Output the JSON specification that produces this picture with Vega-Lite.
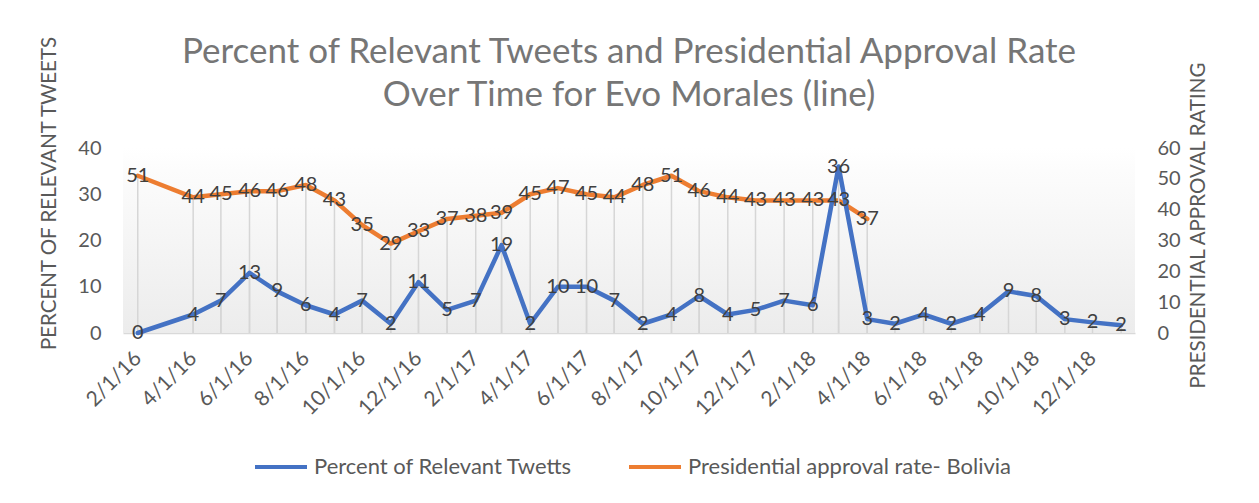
{
  "$schema": "https://vega.github.io/schema/vega-lite/v6.json",
  "width": 1012,
  "height": 185,
  "autosize": {"type": "none"},
  "padding": {"left": 123, "top": 148, "right": 124, "bottom": 170},
  "background": "white",
  "config": {"view": {"stroke": null}, "font": "Lato"},
  "title": {
    "text": ["Percent of Relevant Tweets and Presidential Approval Rate", "Over Time for Evo Morales (line)"],
    "fontSize": 35,
    "font": "Lato",
    "fontWeight": "normal",
    "color": "#767676",
    "lineHeight": 43,
    "anchor": "middle",
    "frame": "group",
    "offset": -78
  },
  "data": {
    "values": [
      {"date": "2016-02-01", "series": "Percent of Relevant Twetts", "value": 0},
      {"date": "2016-04-01", "series": "Percent of Relevant Twetts", "value": 4},
      {"date": "2016-05-01", "series": "Percent of Relevant Twetts", "value": 7},
      {"date": "2016-06-01", "series": "Percent of Relevant Twetts", "value": 13},
      {"date": "2016-07-01", "series": "Percent of Relevant Twetts", "value": 9},
      {"date": "2016-08-01", "series": "Percent of Relevant Twetts", "value": 6},
      {"date": "2016-09-01", "series": "Percent of Relevant Twetts", "value": 4},
      {"date": "2016-10-01", "series": "Percent of Relevant Twetts", "value": 7},
      {"date": "2016-11-01", "series": "Percent of Relevant Twetts", "value": 2},
      {"date": "2016-12-01", "series": "Percent of Relevant Twetts", "value": 11},
      {"date": "2017-01-01", "series": "Percent of Relevant Twetts", "value": 5},
      {"date": "2017-02-01", "series": "Percent of Relevant Twetts", "value": 7},
      {"date": "2017-03-01", "series": "Percent of Relevant Twetts", "value": 19},
      {"date": "2017-04-01", "series": "Percent of Relevant Twetts", "value": 2},
      {"date": "2017-05-01", "series": "Percent of Relevant Twetts", "value": 10},
      {"date": "2017-06-01", "series": "Percent of Relevant Twetts", "value": 10},
      {"date": "2017-07-01", "series": "Percent of Relevant Twetts", "value": 7},
      {"date": "2017-08-01", "series": "Percent of Relevant Twetts", "value": 2},
      {"date": "2017-09-01", "series": "Percent of Relevant Twetts", "value": 4},
      {"date": "2017-10-01", "series": "Percent of Relevant Twetts", "value": 8},
      {"date": "2017-11-01", "series": "Percent of Relevant Twetts", "value": 4},
      {"date": "2017-12-01", "series": "Percent of Relevant Twetts", "value": 5},
      {"date": "2018-01-01", "series": "Percent of Relevant Twetts", "value": 7},
      {"date": "2018-02-01", "series": "Percent of Relevant Twetts", "value": 6},
      {"date": "2018-03-01", "series": "Percent of Relevant Twetts", "value": 36},
      {"date": "2018-04-01", "series": "Percent of Relevant Twetts", "value": 3},
      {"date": "2018-05-01", "series": "Percent of Relevant Twetts", "value": 2},
      {"date": "2018-06-01", "series": "Percent of Relevant Twetts", "value": 4},
      {"date": "2018-07-01", "series": "Percent of Relevant Twetts", "value": 2},
      {"date": "2018-08-01", "series": "Percent of Relevant Twetts", "value": 4},
      {"date": "2018-09-01", "series": "Percent of Relevant Twetts", "value": 9},
      {"date": "2018-10-01", "series": "Percent of Relevant Twetts", "value": 8},
      {"date": "2018-11-01", "series": "Percent of Relevant Twetts", "value": 3},
      {"date": "2018-12-01", "series": "Percent of Relevant Twetts", "value": 2.3},
      {"date": "2019-01-01", "series": "Percent of Relevant Twetts", "value": 1.7},
      {"date": "2016-02-01", "series": "Presidential approval rate- Bolivia", "value": 51},
      {"date": "2016-04-01", "series": "Presidential approval rate- Bolivia", "value": 44},
      {"date": "2016-05-01", "series": "Presidential approval rate- Bolivia", "value": 45},
      {"date": "2016-06-01", "series": "Presidential approval rate- Bolivia", "value": 46},
      {"date": "2016-07-01", "series": "Presidential approval rate- Bolivia", "value": 46},
      {"date": "2016-08-01", "series": "Presidential approval rate- Bolivia", "value": 48},
      {"date": "2016-09-01", "series": "Presidential approval rate- Bolivia", "value": 43},
      {"date": "2016-10-01", "series": "Presidential approval rate- Bolivia", "value": 35},
      {"date": "2016-11-01", "series": "Presidential approval rate- Bolivia", "value": 29},
      {"date": "2016-12-01", "series": "Presidential approval rate- Bolivia", "value": 33},
      {"date": "2017-01-01", "series": "Presidential approval rate- Bolivia", "value": 37},
      {"date": "2017-02-01", "series": "Presidential approval rate- Bolivia", "value": 38},
      {"date": "2017-03-01", "series": "Presidential approval rate- Bolivia", "value": 39},
      {"date": "2017-04-01", "series": "Presidential approval rate- Bolivia", "value": 45},
      {"date": "2017-05-01", "series": "Presidential approval rate- Bolivia", "value": 47},
      {"date": "2017-06-01", "series": "Presidential approval rate- Bolivia", "value": 45},
      {"date": "2017-07-01", "series": "Presidential approval rate- Bolivia", "value": 44},
      {"date": "2017-08-01", "series": "Presidential approval rate- Bolivia", "value": 48},
      {"date": "2017-09-01", "series": "Presidential approval rate- Bolivia", "value": 51},
      {"date": "2017-10-01", "series": "Presidential approval rate- Bolivia", "value": 46},
      {"date": "2017-11-01", "series": "Presidential approval rate- Bolivia", "value": 44},
      {"date": "2017-12-01", "series": "Presidential approval rate- Bolivia", "value": 43},
      {"date": "2018-01-01", "series": "Presidential approval rate- Bolivia", "value": 43},
      {"date": "2018-02-01", "series": "Presidential approval rate- Bolivia", "value": 43},
      {"date": "2018-03-01", "series": "Presidential approval rate- Bolivia", "value": 43},
      {"date": "2018-04-01", "series": "Presidential approval rate- Bolivia", "value": 37}
    ]
  },
  "encoding": {
    "x": {
      "field": "date",
      "type": "temporal",
      "scale": {
        "type": "utc",
        "domain": [
          {"year": 2016, "month": 1, "date": 16, "utc": true},
          {"year": 2019, "month": 1, "date": 16, "utc": true}
        ]
      },
      "axis": {
        "values": [
          {"year": 2016, "month": 2, "date": 1, "utc": true},
          {"year": 2016, "month": 4, "date": 1, "utc": true},
          {"year": 2016, "month": 6, "date": 1, "utc": true},
          {"year": 2016, "month": 8, "date": 1, "utc": true},
          {"year": 2016, "month": 10, "date": 1, "utc": true},
          {"year": 2016, "month": 12, "date": 1, "utc": true},
          {"year": 2017, "month": 2, "date": 1, "utc": true},
          {"year": 2017, "month": 4, "date": 1, "utc": true},
          {"year": 2017, "month": 6, "date": 1, "utc": true},
          {"year": 2017, "month": 8, "date": 1, "utc": true},
          {"year": 2017, "month": 10, "date": 1, "utc": true},
          {"year": 2017, "month": 12, "date": 1, "utc": true},
          {"year": 2018, "month": 2, "date": 1, "utc": true},
          {"year": 2018, "month": 4, "date": 1, "utc": true},
          {"year": 2018, "month": 6, "date": 1, "utc": true},
          {"year": 2018, "month": 8, "date": 1, "utc": true},
          {"year": 2018, "month": 10, "date": 1, "utc": true},
          {"year": 2018, "month": 12, "date": 1, "utc": true}
        ],
        "format": "%-m/%-d/%y",
        "labelAngle": -45,
        "labelAlign": "right",
        "labelBaseline": "middle",
        "labelFontSize": 21,
        "labelColor": "#595959",
        "labelPadding": 22,
        "labelOverlap": false,
        "labelFlush": false,
        "labelBound": false,
        "ticks": false,
        "grid": false,
        "domainColor": "#d9d9d9",
        "domainWidth": 1.5,
        "title": null
      }
    }
  },
  "layer": [
    {
      "encoding": {
        "y": {
          "field": "value",
          "type": "quantitative",
          "scale": {"domain": [0, 60], "nice": false},
          "axis": {
            "orient": "right",
            "values": [0, 10, 20, 30, 40, 50, 60],
            "title": "PRESIDENTIAL APPROVAL RATING",
            "titleAngle": -90,
            "titleBaseline": "top",
            "titleY": 77,
            "titlePadding": 8,
            "titleFontSize": 20.5,
            "titleFontWeight": "normal",
            "titleColor": "#595959",
            "labelFontSize": 20,
            "labelColor": "#595959",
            "labelPadding": 22,
            "ticks": false,
            "domain": false,
            "grid": false
          }
        }
      },
      "layer": [
        {
          "transform": [{"filter": "datum.series === 'Presidential approval rate- Bolivia'"}, {"filter": "datum.value === 51 && year(datum.date) === 2016"}],
          "mark": {
            "type": "rect",
            "fill": {
              "gradient": "linear",
              "x1": 0, "y1": 0, "x2": 0, "y2": 1,
              "stops": [
                {"offset": 0, "color": "#ffffff"},
                {"offset": 0.12, "color": "#fcfcfc"},
                {"offset": 1, "color": "#ececec"}
              ]
            }
          },
          "encoding": {
            "x": {"datum": {"year": 2016, "month": 1, "date": 16, "utc": true}, "type": "temporal"},
            "x2": {"datum": {"year": 2019, "month": 1, "date": 16, "utc": true}},
            "y": {"datum": 0, "type": "quantitative"},
            "y2": {"datum": 60}
          }
        },
        {
          "transform": [{"filter": "datum.series === 'Presidential approval rate- Bolivia'"}],
          "mark": {"type": "rule", "color": "#d6d6d6", "strokeWidth": 1.5},
          "encoding": {"y2": {"datum": 0}}
        },
        {
          "transform": [{"filter": "datum.series === 'Presidential approval rate- Bolivia'"}],
          "mark": {"type": "line", "strokeWidth": 4.5, "strokeJoin": "round", "strokeCap": "round"},
          "encoding": {
            "color": {
              "field": "series",
              "type": "nominal",
              "scale": {
                "domain": ["Percent of Relevant Twetts", "Presidential approval rate- Bolivia"],
                "range": ["#4472C4", "#ED7D31"]
              },
              "legend": {
                "orient": "none",
                "legendX": 130,
                "legendY": 291,
                "direction": "horizontal",
                "title": null,
                "symbolType": "stroke",
                "symbolSize": 2704,
                "symbolStrokeWidth": 4,
                "labelFontSize": 22,
                "labelColor": "#595959",
                "labelLimit": 500,
                "labelOffset": 5,
                "columnPadding": 48
              }
            }
          }
        }
      ]
    },
    {
      "transform": [{"filter": "datum.series === 'Percent of Relevant Twetts'"}],
      "encoding": {
        "y": {
          "field": "value",
          "type": "quantitative",
          "scale": {"domain": [0, 40], "nice": false},
          "axis": {
            "orient": "left",
            "values": [0, 10, 20, 30, 40],
            "title": "PERCENT OF RELEVANT TWEETS",
            "titleY": 45,
            "titlePadding": 18,
            "titleFontSize": 20.5,
            "titleFontWeight": "normal",
            "titleColor": "#595959",
            "labelFontSize": 20,
            "labelColor": "#595959",
            "labelPadding": 22,
            "ticks": false,
            "domain": false,
            "grid": false
          }
        }
      },
      "layer": [
        {
          "mark": {"type": "rule", "color": "#d6d6d6", "strokeWidth": 1.5},
          "encoding": {"y2": {"datum": 0}}
        },
        {
          "mark": {"type": "line", "strokeWidth": 4.5, "strokeJoin": "round", "strokeCap": "round"},
          "encoding": {"color": {"field": "series", "type": "nominal"}}
        },
        {
          "mark": {"type": "text", "fontSize": 20, "color": "#404040", "align": "center", "baseline": "middle"},
          "encoding": {"text": {"field": "value", "type": "quantitative", "format": ".0f"}}
        }
      ]
    },
    {
      "transform": [{"filter": "datum.series === 'Presidential approval rate- Bolivia'"}],
      "mark": {"type": "text", "fontSize": 20, "color": "#404040", "align": "center", "baseline": "middle"},
      "encoding": {
        "y": {"field": "value", "type": "quantitative", "scale": {"domain": [0, 60], "nice": false}, "axis": null},
        "text": {"field": "value", "type": "quantitative", "format": ".0f"}
      }
    }
  ],
  "resolve": {"scale": {"y": "independent"}}
}
